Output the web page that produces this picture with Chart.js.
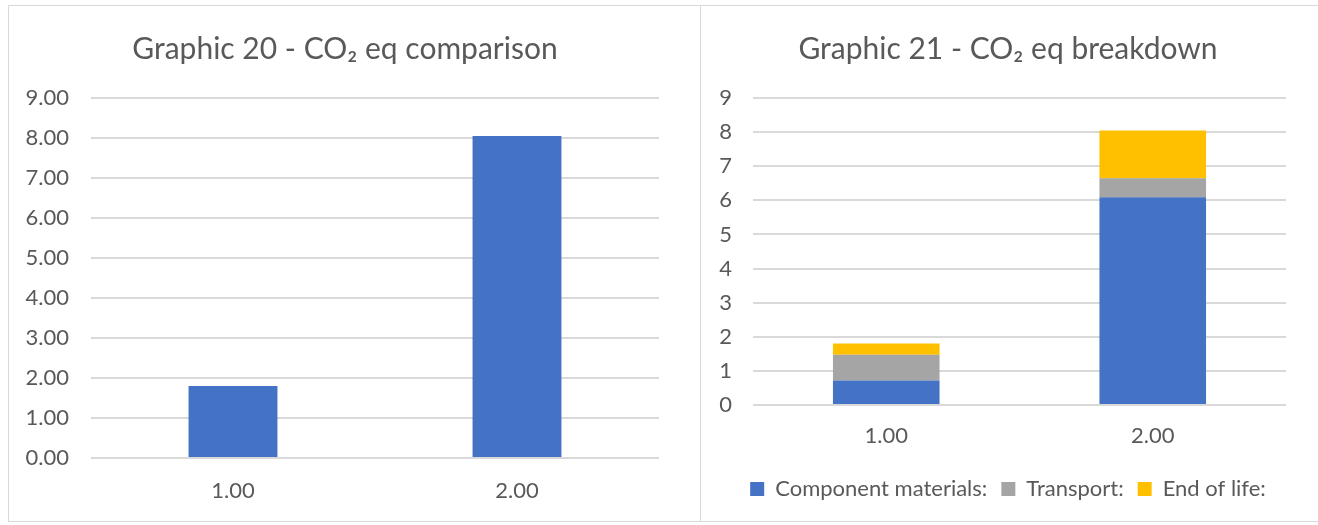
<!DOCTYPE html>
<html>
<head>
<meta charset="utf-8">
<script src="https://cdn.jsdelivr.net/npm/chart.js@4.4.1/dist/chart.umd.min.js"></script>
<style>
    html, body { margin: 0; padding: 0; background: #fff; }
    body { width: 1318px; height: 525px; overflow: hidden; position: relative; }
    .panel { position: absolute; border: 1px solid #d9d9d9; box-sizing: border-box; }
    .holder { position: absolute; }
</style>
</head>
<body>
<div class="panel" style="left:8px; top:5px; width:693px; height:517px;"></div>
<div class="panel" style="left:700px; top:5px; width:630px; height:517px;"></div>
<div class="holder" style="left:9px; top:6px;"><canvas id="compareChart" width="690" height="514"></canvas></div>
<div class="holder" style="left:701px; top:6px;"><canvas id="breakdownChart" width="617" height="514"></canvas></div>

<script>
// ===============================
// DATA
// ===============================
const categories = ['1.00', '2.00'];
const totals = [1.80, 8.05];
const componentMaterials = [0.72, 6.09];
const transport = [0.75, 0.56];
const endOfLife = [0.33, 1.40];
const yMin = 0;
const yMax = 9;
const yStep = 1;

// ===============================
// STYLE
// ===============================
const FONT = "Lato, 'Noto Sans', 'DejaVu Sans', sans-serif";
const TEXT = '#595959';
const GRID = '#d9d9d9';
const BLUE = '#4472c4';
const GREY = '#a5a5a5';
const GOLD = '#ffc000';

// fixed axis sizes so the plot lands where the original one is
const fixWidth = (w) => (scale) => { scale.width = w; };
const fixHeight = (h) => (scale) => { scale.height = h; };

// nudge title + legend sideways (Excel centres them on the whole frame, not the plot)
const shiftBlocks = {
    id: 'shiftBlocks',
    afterLayout(chart, args, opts) {
        const dx = opts.dx || 0;
        [chart.titleBlock, chart.legend].forEach(b => {
            if (b) { b.left += dx; b.right += dx; }
        });
    }
};

function baseOptions(title, pad, yWidth, xHeight, decimals) {
    return {
        responsive: false,
        animation: false,
        layout: { padding: pad },
        plugins: {
            title: {
                display: true,
                text: title,
                color: TEXT,
                font: { family: FONT, size: 30, weight: 'normal' },
                padding: { top: 25, bottom: 31 }
            },
            legend: { display: false },
            tooltip: { enabled: false },
            shiftBlocks: { dx: 0 }
        },
        scales: {
            x: {
                grid: { display: false },
                border: { display: false },
                ticks: { color: TEXT, font: { family: FONT, size: 22 }, padding: 12 },
                afterFit: fixHeight(xHeight)
            },
            y: {
                min: yMin,
                max: yMax,
                grid: { color: GRID, lineWidth: 2, drawTicks: false },
                border: { display: false },
                ticks: {
                    stepSize: yStep,
                    color: TEXT,
                    font: { family: FONT, size: 22 },
                    padding: 22,
                    callback: (v) => Number(v).toFixed(decimals)
                },
                afterFit: fixWidth(yWidth)
            }
        }
    };
}

// ===============================
// GRAPHIC 20
// ===============================
const opts20 = baseOptions('Graphic 20 - CO₂ eq comparison', { left: 0, right: 40, top: 0, bottom: 0 }, 82, 62, 2);
opts20.plugins.shiftBlocks = { dx: 11 };

new Chart(document.getElementById('compareChart'), {
    type: 'bar',
    data: {
        labels: categories,
        datasets: [{ label: 'CO₂ eq', data: totals, backgroundColor: BLUE, categoryPercentage: 0.313, barPercentage: 1 }]
    },
    options: opts20,
    plugins: [shiftBlocks]
});

// ===============================
// GRAPHIC 21
// ===============================
const opts21 = baseOptions('Graphic 21 - CO₂ eq breakdown', { left: 0, right: 32, top: 0, bottom: 10 }, 52, 59, 0);
opts21.scales.x.stacked = true;
opts21.scales.y.stacked = true;
opts21.scales.x.ticks.padding = 10;
opts21.scales.y.ticks.padding = 21;
opts21.plugins.shiftBlocks = { dx: 14.5 };
opts21.plugins.legend = {
    display: true,
    position: 'bottom',
    labels: { color: TEXT, font: { family: FONT, size: 22 }, boxWidth: 14, boxHeight: 14, padding: 14 }
};

new Chart(document.getElementById('breakdownChart'), {
    type: 'bar',
    data: {
        labels: categories,
        datasets: [
            { label: 'Component materials:', data: componentMaterials, backgroundColor: BLUE, categoryPercentage: 0.4, barPercentage: 1 },
            { label: 'Transport:', data: transport, backgroundColor: GREY, categoryPercentage: 0.4, barPercentage: 1 },
            { label: 'End of life:', data: endOfLife, backgroundColor: GOLD, categoryPercentage: 0.4, barPercentage: 1 }
        ]
    },
    options: opts21,
    plugins: [shiftBlocks]
});
</script>
</body>
</html>
